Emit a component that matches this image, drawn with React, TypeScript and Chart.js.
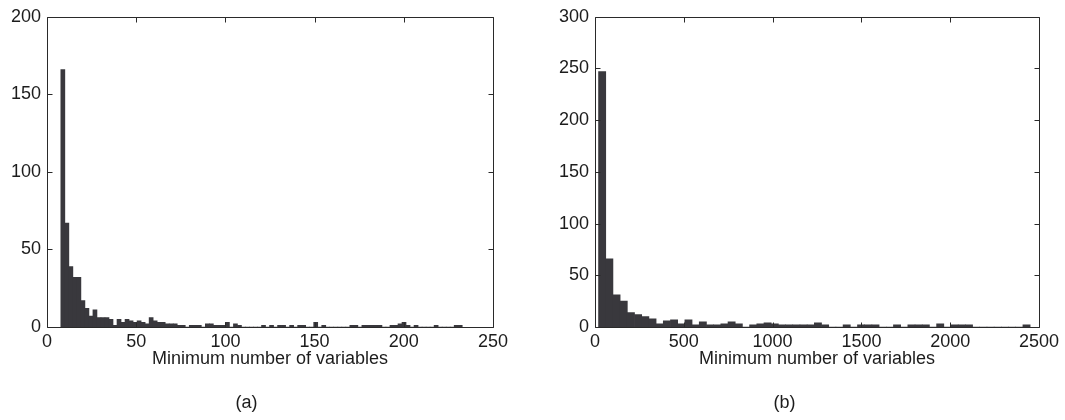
import React, { useEffect, useRef } from "react";
import { Chart, registerables } from "chart.js";

Chart.register(...registerables);

// Histogram (a): bin edges and counts
const leftBinStart = 7.75;
const leftBinWidth = 2.25;
const leftCounts = [
  166, 67, 39, 32, 32, 17, 12, 7, 11, 6,
  6, 6, 5, 1, 5, 3, 5, 4, 3, 4,
  3, 2, 6, 4, 3, 3, 2, 2, 2, 1,
  1, 0, 1, 1, 1, 0, 2, 2, 1, 1,
  1, 3, 0, 2, 1, 0, 0, 0, 0, 0,
  1, 0, 1, 0, 1, 1, 0, 1, 0, 1,
  1, 0, 0, 3, 0, 1, 0, 0, 0, 0,
  0, 0, 1, 1, 0, 1, 1, 1, 1, 1,
  0, 0, 1, 1, 2, 3, 1, 0, 1, 0,
  0, 0, 0, 1, 0, 0, 0, 0, 1, 1,
];
const leftXTicks = [0, 50, 100, 150, 200, 250];
const leftYTicks = [0, 50, 100, 150, 200];

// Histogram (b): bin edges and counts
const rightBinStart = 20;
const rightBinWidth = 40.5;
const rightCounts = [
  247, 66, 31, 25, 14, 12, 10, 8, 3, 6,
  7, 3, 7, 2, 5, 2, 2, 3, 5, 3,
  0, 2, 3, 4, 3, 2, 2, 2, 2, 2,
  4, 2, 0, 0, 2, 0, 2, 2, 2, 0,
  0, 2, 0, 2, 2, 2, 0, 3, 0, 2,
  2, 2, 0, 0, 0, 0, 0, 0, 0, 2,
];
const rightXTicks = [0, 500, 1000, 1500, 2000, 2500];
const rightYTicks = [0, 50, 100, 150, 200, 250, 300];

const xAxisTitle = "Minimum number of variables";
const panelLabels = ["(a)", "(b)"];

const FONT_FAMILY = "'Liberation Sans', Arial, Helvetica, sans-serif";
const TEXT_COLOR = "#1c1c1c";
const BAR_COLOR = "#39383d";
const FRAME_COLOR = "#2a2a2a";

// Draws the boxed axes frame with inward-pointing ticks on all four sides.
const framePlugin = {
  id: "boxFrame",
  afterDatasetsDraw(chart: any) {
    const { ctx, chartArea: a, scales } = chart;
    const left = Math.round(a.left) + 0.5;
    const right = Math.round(a.right) + 0.5;
    const top = Math.round(a.top) + 0.5;
    const bottom = Math.round(a.bottom) + 0.5;
    const len = 5;
    ctx.save();
    ctx.strokeStyle = FRAME_COLOR;
    ctx.lineWidth = 1;
    ctx.beginPath();
    ctx.rect(left, top, right - left, bottom - top);
    scales.x.ticks.forEach((t: any) => {
      const px = Math.round(scales.x.getPixelForValue(t.value)) + 0.5;
      ctx.moveTo(px, bottom);
      ctx.lineTo(px, bottom - len);
      ctx.moveTo(px, top);
      ctx.lineTo(px, top + len);
    });
    scales.y.ticks.forEach((t: any) => {
      const py = Math.round(scales.y.getPixelForValue(t.value)) + 0.5;
      ctx.moveTo(left, py);
      ctx.lineTo(left + len, py);
      ctx.moveTo(right, py);
      ctx.lineTo(right - len, py);
    });
    ctx.stroke();
    ctx.restore();
  },
};

type PanelProps = {
  counts: number[];
  binStart: number;
  binWidth: number;
  xTicks: number[];
  yTicks: number[];
  label: string;
  width: number;
  yAxisWidth: number;
  rightPad: number;
};

function HistogramPanel(props: PanelProps) {
  const ref = useRef<HTMLCanvasElement | null>(null);

  useEffect(() => {
    if (!ref.current) return;
    const { counts, binStart, binWidth, xTicks, yTicks, label, yAxisWidth, rightPad } = props;
    const bars = counts.map((c, i) => ({ x: binStart + binWidth * (i + 0.5), y: c }));
    const font = { family: FONT_FAMILY, size: 18, lineHeight: 1.2 };

    const chart = new Chart(ref.current, {
      type: "bar",
      data: {
        datasets: [
          {
            data: bars as any,
            backgroundColor: BAR_COLOR,
            borderWidth: 0,
            barPercentage: 1,
            categoryPercentage: 1,
          },
        ],
      },
      options: {
        animation: false,
        responsive: false,
        devicePixelRatio: 1,
        layout: { padding: { left: 0, top: 16, right: rightPad, bottom: 0 } },
        plugins: {
          legend: { display: false },
          tooltip: { enabled: false },
          title: {
            display: true,
            position: "bottom",
            text: label,
            color: TEXT_COLOR,
            font: { ...font, weight: "normal" },
            padding: { top: 20.4, bottom: 6.2 },
          },
        },
        scales: {
          x: {
            type: "linear",
            offset: false,
            min: xTicks[0],
            max: xTicks[xTicks.length - 1],
            grid: { display: false, drawTicks: false },
            border: { display: false },
            afterBuildTicks: (s: any) => {
              s.ticks = xTicks.map((v) => ({ value: v }));
            },
            afterFit: (s: any) => {
              s.height = 44.8;
            },
            ticks: {
              color: TEXT_COLOR,
              font,
              padding: 4,
              maxRotation: 0,
              autoSkip: false,
              callback: (v: any) => String(v),
            },
            title: {
              display: true,
              text: xAxisTitle,
              color: TEXT_COLOR,
              font,
              padding: { top: 0, bottom: 2 },
            },
          },
          y: {
            type: "linear",
            min: yTicks[0],
            max: yTicks[yTicks.length - 1],
            grid: { display: false, drawTicks: false },
            border: { display: false },
            afterBuildTicks: (s: any) => {
              s.ticks = yTicks.map((v) => ({ value: v }));
            },
            afterFit: (s: any) => {
              s.width = yAxisWidth;
            },
            ticks: {
              color: TEXT_COLOR,
              font,
              padding: 6,
              autoSkip: false,
              callback: (v: any) => String(v),
            },
          },
        },
      },
      plugins: [framePlugin],
    });
    return () => chart.destroy();
  }, []);

  return (
    <canvas
      ref={ref}
      width={props.width}
      height={420}
      style={{ display: "block", width: props.width, height: 420 }}
    />
  );
}

export default function App() {
  return (
    <div
      style={{
        position: "fixed",
        left: 0,
        top: 0,
        width: 1065,
        height: 420,
        background: "#ffffff",
        display: "flex",
      }}
    >
      <HistogramPanel
        counts={leftCounts}
        binStart={leftBinStart}
        binWidth={leftBinWidth}
        xTicks={leftXTicks}
        yTicks={leftYTicks}
        label={panelLabels[0]}
        width={530}
        yAxisWidth={47}
        rightPad={37}
      />
      <HistogramPanel
        counts={rightCounts}
        binStart={rightBinStart}
        binWidth={rightBinWidth}
        xTicks={rightXTicks}
        yTicks={rightYTicks}
        label={panelLabels[1]}
        width={535}
        yAxisWidth={65}
        rightPad={26}
      />
    </div>
  );
}
